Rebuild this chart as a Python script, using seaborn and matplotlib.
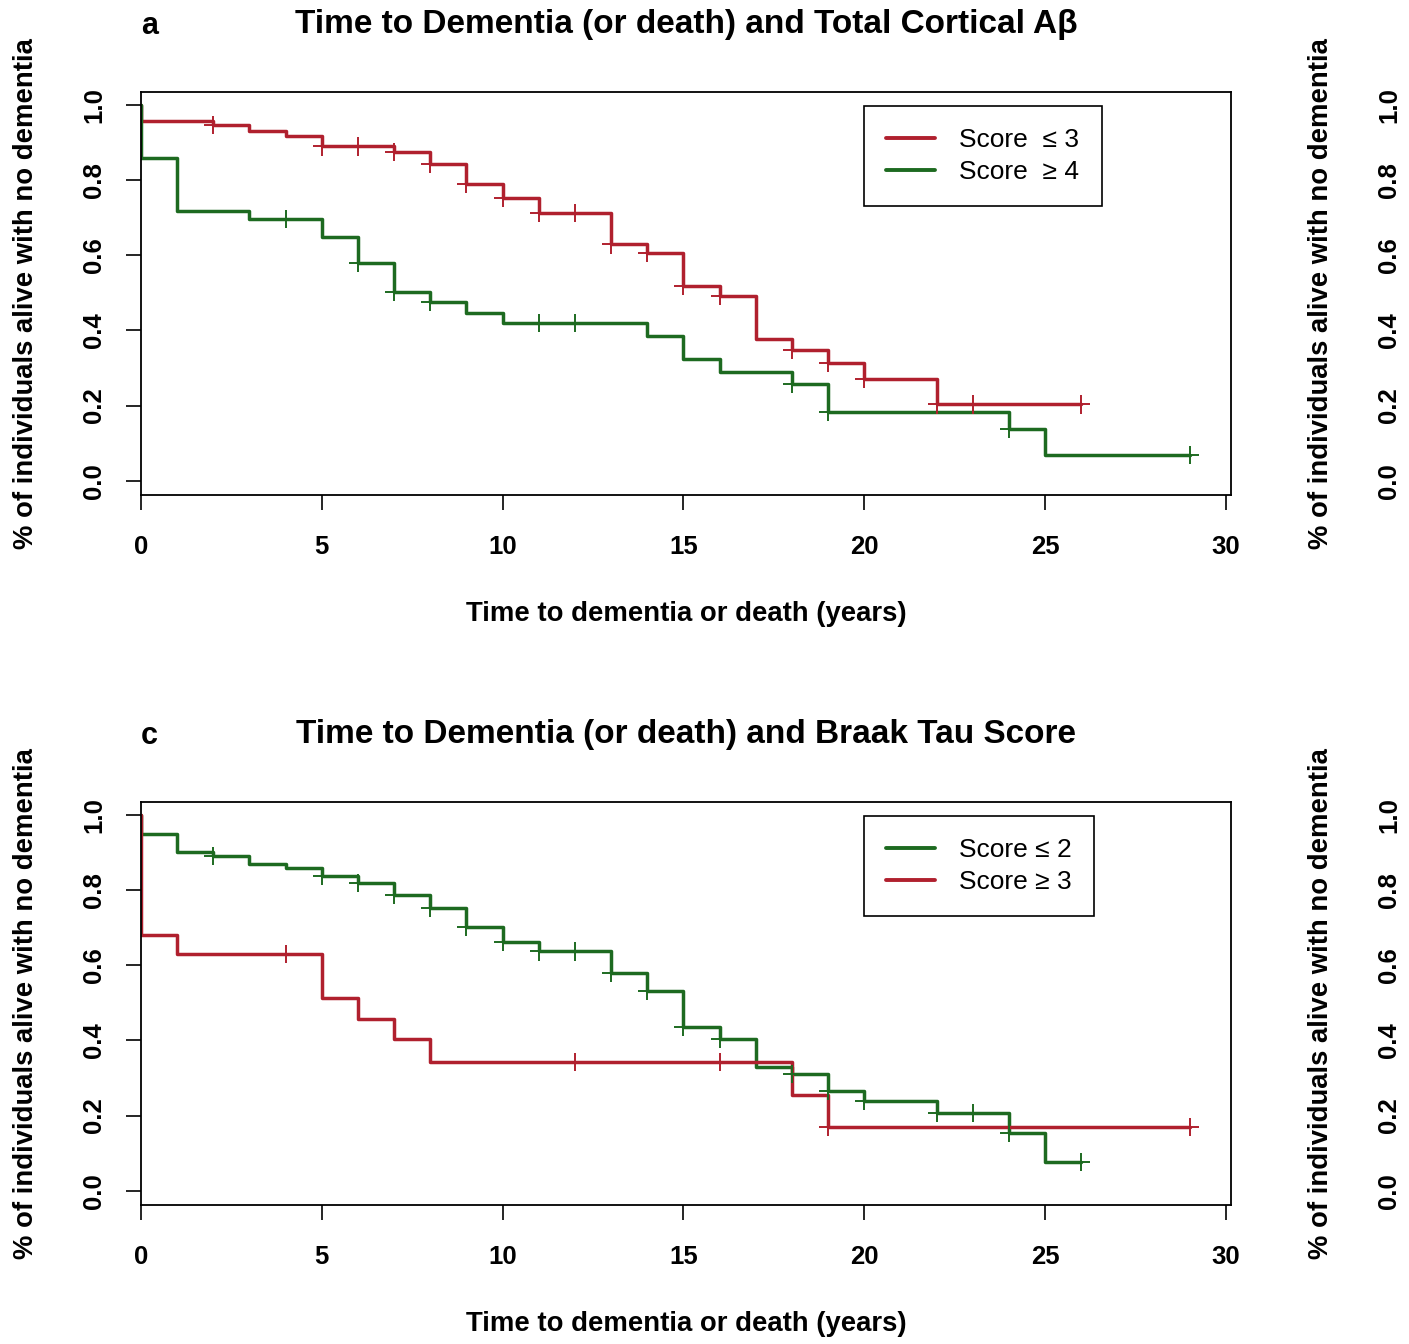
import numpy as np
import pandas as pd
import matplotlib
matplotlib.use("Agg")
import matplotlib.pyplot as plt
from matplotlib.lines import Line2D
import seaborn as sns

# ---------------- data ----------------
# Panel a: Total cortical Abeta
a_low_t = [0, 0, 2, 3, 4, 5, 7, 8, 9, 10, 11, 13, 14, 15, 16, 17, 18, 19, 20, 22, 26]
a_low_s = [1.0, 0.959, 0.947, 0.931, 0.917, 0.890, 0.875, 0.843, 0.789, 0.753, 0.714,
           0.629, 0.607, 0.518, 0.493, 0.377, 0.348, 0.313, 0.270, 0.203, 0.203]
a_low_cens = [2, 5, 6, 7, 8, 9, 10, 11, 12, 13, 14, 15, 16, 18, 19, 20, 22, 23, 26]

a_high_t = [0, 0, 1, 3, 5, 6, 7, 8, 9, 10, 14, 15, 16, 18, 19, 24, 25, 29]
a_high_s = [1.0, 0.859, 0.719, 0.696, 0.650, 0.579, 0.503, 0.477, 0.447, 0.419, 0.385,
            0.323, 0.290, 0.258, 0.184, 0.137, 0.068, 0.068]
a_high_cens = [4, 6, 7, 8, 11, 12, 18, 19, 24, 29]

# Panel c: Braak tau score
c_low_t = [0, 0, 1, 2, 3, 4, 5, 6, 7, 8, 9, 10, 11, 13, 14, 15, 16, 17, 18, 19, 20, 22, 24, 25, 26]
c_low_s = [1.0, 0.950, 0.901, 0.891, 0.869, 0.859, 0.839, 0.820, 0.787, 0.754, 0.703, 0.663,
           0.637, 0.579, 0.532, 0.437, 0.403, 0.330, 0.311, 0.266, 0.239, 0.206, 0.154,
           0.077, 0.077]
c_low_cens = [2, 5, 6, 7, 8, 9, 10, 11, 12, 13, 14, 15, 16, 18, 19, 20, 22, 23, 24, 26]

c_high_t = [0, 0, 1, 5, 6, 7, 8, 18, 19, 29]
c_high_s = [1.0, 0.681, 0.630, 0.514, 0.456, 0.403, 0.342, 0.256, 0.169, 0.169]
c_high_cens = [4, 12, 16, 19, 29]

x_ticks = [0, 5, 10, 15, 20, 25, 30]
y_ticks = [0.0, 0.2, 0.4, 0.6, 0.8, 1.0]
y_ticklabels = ["0.0", "0.2", "0.4", "0.6", "0.8", "1.0"]

titles = ["Time to Dementia (or death) and Total Cortical A\u03b2",
          "Time to Dementia (or death) and Braak Tau Score"]
panel_letters = ["a", "c"]
xlabel = "Time to dementia or death (years)"
ylabel = "% of individuals alive with no dementia"

RED = "#B0202E"
GREEN = "#1D6A20"

# ---------------- style ----------------
sns.set_style("white")
plt.rcParams["font.family"] = ["Liberation Sans", "DejaVu Sans"]
plt.rcParams["axes.edgecolor"] = "black"
plt.rcParams["axes.linewidth"] = 1.3
for k in ["text.color", "axes.labelcolor", "xtick.color", "ytick.color"]:
    plt.rcParams[k] = "black"

W, H = 1409, 1344
fig = plt.figure(figsize=(W / 100, H / 100), dpi=100)

LABEL_FS = 19.8
TICK_FS = 18.5
TITLE_FS = 24
LEG_FS = 19


def px_rect(left, top, right, bottom):
    return [left / W, 1 - bottom / H, (right - left) / W, (bottom - top) / H]


def curve_frame(t, s, label):
    return pd.DataFrame({"time": t, "surv": s, "group": label})


def cens_frame(t, s, cens, label):
    t = np.asarray(t, float)
    s = np.asarray(s, float)
    idx = np.searchsorted(t, np.asarray(cens, float), side="right") - 1
    return pd.DataFrame({"time": cens, "surv": s[idx], "group": label})


def style_axes(ax):
    ax.set_xlim(0, 30.14)
    ax.set_ylim(-0.038, 1.035)
    ax.set_xticks(x_ticks)
    ax.set_yticks(y_ticks)
    ax.set_yticklabels(y_ticklabels, rotation=90, va="center")
    ax.tick_params(axis="both", direction="out", length=11, width=1.2,
                   labelsize=TICK_FS, color="black", labelcolor="black",
                   bottom=True, left=True)
    ax.tick_params(axis="x", pad=18)
    ax.tick_params(axis="y", pad=14)
    for lab in ax.get_xticklabels() + ax.get_yticklabels():
        lab.set_fontweight("bold")
    for sp in ax.spines.values():
        sp.set_visible(True)
        sp.set_color("black")
        sp.set_linewidth(1.3)


panels = [
    dict(rect=px_rect(141, 92, 1231, 495),
         series=[("Score  \u2264 3", a_low_t, a_low_s, a_low_cens, RED),
                 ("Score  \u2265 4", a_high_t, a_high_s, a_high_cens, GREEN)]),
    dict(rect=px_rect(141, 802, 1231, 1205),
         series=[("Score \u2264 2", c_low_t, c_low_s, c_low_cens, GREEN),
                 ("Score \u2265 3", c_high_t, c_high_s, c_high_cens, RED)]),
]

for i, p in enumerate(panels):
    ax = fig.add_axes(p["rect"])
    curves = pd.concat([curve_frame(t, s, lab) for lab, t, s, c, col in p["series"]],
                       ignore_index=True)
    marks = pd.concat([cens_frame(t, s, c, lab) for lab, t, s, c, col in p["series"]],
                      ignore_index=True)
    palette = {lab: col for lab, t, s, c, col in p["series"]}
    order = [lab for lab, *_ in p["series"]]
    sns.lineplot(data=curves, x="time", y="surv", hue="group", hue_order=order,
                 palette=palette, estimator=None, sort=False, drawstyle="steps-post",
                 linewidth=2.5, legend=False, ax=ax)
    sns.scatterplot(data=marks, x="time", y="surv", hue="group", hue_order=order,
                    palette=palette, marker="+", s=170, linewidth=1.4,
                    legend=False, ax=ax, zorder=3)
    style_axes(ax)
    ax.set_xlabel(xlabel, fontsize=LABEL_FS, fontweight="bold")
    ax.set_ylabel(ylabel, fontsize=LABEL_FS, fontweight="bold")
    ax.xaxis.set_label_coords(0.5, -0.262)
    ax.yaxis.set_label_coords(-0.094, 0.5)
    ax.text(0.5, 1.168, titles[i], transform=ax.transAxes, ha="center", va="center",
            fontsize=TITLE_FS, fontweight="bold")
    ax.text(0.0, 1.165, panel_letters[i], transform=ax.transAxes, ha="left", va="center",
            fontsize=22, fontweight="bold")
    handles = [Line2D([0], [0], color=col, lw=2.8) for lab, t, s, c, col in p["series"]]
    leg = ax.legend(handles, order, loc="upper left", bbox_to_anchor=(0.663, 0.966),
                    borderaxespad=0, fontsize=LEG_FS, frameon=True, fancybox=False,
                    handlelength=1.85, handletextpad=0.92, labelspacing=0.3,
                    borderpad=0.85, edgecolor="black")
    leg.get_frame().set_linewidth(1.2)
    leg.get_frame().set_alpha(1)

    # clipped neighbouring panel (only its y axis text falls inside the figure)
    r = p["rect"]
    ghost = fig.add_axes([1436 / W, r[1], r[2], r[3]])
    ghost.set_facecolor("none")
    style_axes(ghost)
    ghost.set_xticklabels([])
    ghost.set_ylabel(ylabel, fontsize=LABEL_FS, fontweight="bold")
    ghost.yaxis.set_label_coords(-0.094, 0.5)

fig.savefig("out.png", dpi=100)
